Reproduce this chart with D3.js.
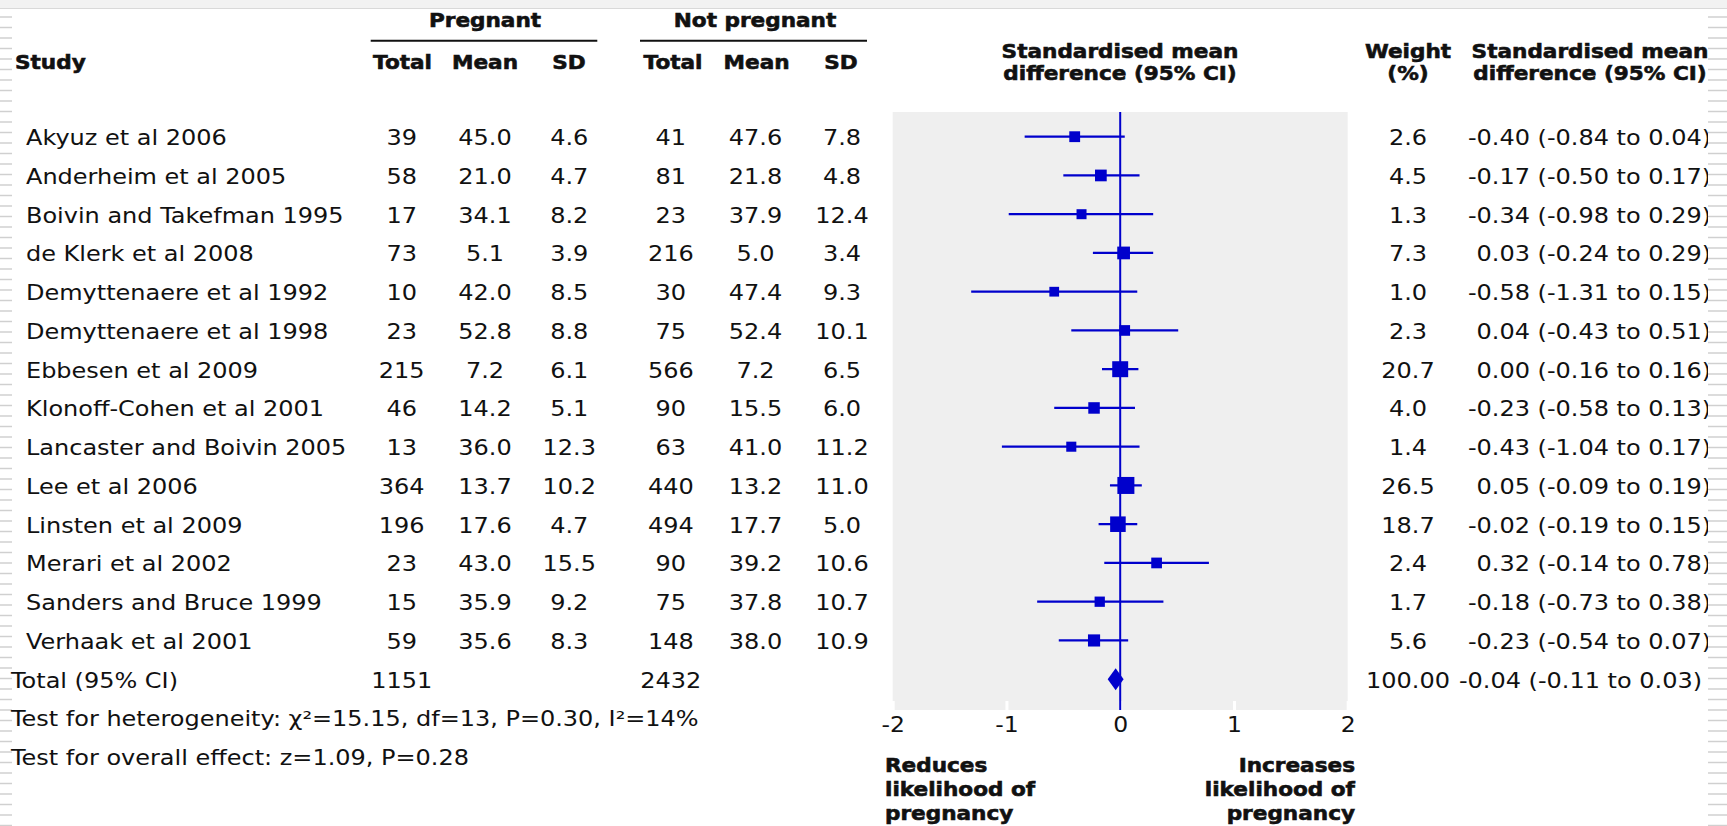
<!DOCTYPE html>
<html><head><meta charset="utf-8">
<script src="https://cdn.jsdelivr.net/npm/d3@7/dist/d3.min.js"></script>
<style>html,body{margin:0;padding:0;background:#fff;}svg{display:block;}</style>
</head><body>
<script>
// ---------------- DATA ----------------
const studies = ["Akyuz et al 2006","Anderheim et al 2005","Boivin and Takefman 1995","de Klerk et al 2008",
  "Demyttenaere et al 1992","Demyttenaere et al 1998","Ebbesen et al 2009","Klonoff-Cohen et al 2001",
  "Lancaster and Boivin 2005","Lee et al 2006","Linsten et al 2009","Merari et al 2002",
  "Sanders and Bruce 1999","Verhaak et al 2001"];
const pregTotal = [39,58,17,73,10,23,215,46,13,364,196,23,15,59];
const pregMean  = [45.0,21.0,34.1,5.1,42.0,52.8,7.2,14.2,36.0,13.7,17.6,43.0,35.9,35.6];
const pregSD    = [4.6,4.7,8.2,3.9,8.5,8.8,6.1,5.1,12.3,10.2,4.7,15.5,9.2,8.3];
const notTotal  = [41,81,23,216,30,75,566,90,63,440,494,90,75,148];
const notMean   = [47.6,21.8,37.9,5.0,47.4,52.4,7.2,15.5,41.0,13.2,17.7,39.2,37.8,38.0];
const notSD     = [7.8,4.8,12.4,3.4,9.3,10.1,6.5,6.0,11.2,11.0,5.0,10.6,10.7,10.9];
const weights   = [2.6,4.5,1.3,7.3,1.0,2.3,20.7,4.0,1.4,26.5,18.7,2.4,1.7,5.6];
const smd       = [-0.40,-0.17,-0.34,0.03,-0.58,0.04,0.00,-0.23,-0.43,0.05,-0.02,0.32,-0.18,-0.23];
const smdLower  = [-0.84,-0.50,-0.98,-0.24,-1.31,-0.43,-0.16,-0.58,-1.04,-0.09,-0.19,-0.14,-0.73,-0.54];
const smdUpper  = [0.04,0.17,0.29,0.29,0.15,0.51,0.16,0.13,0.17,0.19,0.15,0.78,0.38,0.07];
const totalLabel = "Total (95% CI)";
const totalPreg = 1151, totalNot = 2432, totalWeight = "100.00";
const totalSmd = -0.04, totalLower = -0.11, totalUpper = 0.03;
const heterogeneityText = "Test for heterogeneity: χ²=15.15, df=13, P=0.30, I²=14%";
const overallText = "Test for overall effect: z=1.09, P=0.28";
const axisTicks = [-2,-1,0,1,2];
const groupHeaders = ["Pregnant","Not pregnant"];
const colHeaders = ["Total","Mean","SD"];
const leftNote = ["Reduces","likelihood of","pregnancy"];
const rightNote = ["Increases","likelihood of","pregnancy"];

// ---------------- LAYOUT ----------------
const W = 1727, H = 826;
const BLUE = "#0000cc", INK = "#111";
const loc = d3.formatLocale({decimal:".", thousands:",", grouping:[3], currency:["",""], minus:"-"});
const f1 = loc.format(".1f"), f2 = loc.format(".2f"), fi = loc.format("d");

const svg = d3.select("body").append("svg").attr("width", W).attr("height", H);
svg.append("rect").attr("width", W).attr("height", H).attr("fill", "#fff");

// slide decorations
svg.append("rect").attr("x",0).attr("y",0).attr("width",W).attr("height",8).attr("fill","#f2f2f2");
svg.append("line").attr("x1",0).attr("x2",W).attr("y1",8.5).attr("y2",8.5).attr("stroke","#d9d9d9").attr("stroke-width",1);
const stripeYs = d3.range(17, H, 10.5);
svg.append("g").selectAll("line").data(stripeYs).join("line")
  .attr("x1",0).attr("x2",12).attr("y1",d=>d).attr("y2",d=>d).attr("stroke","#d0d0d0").attr("stroke-width",1.5);

const x = d3.scaleLinear().domain([-2,2]).range([892.7,1347.7]);
const rowY = d3.scaleLinear().domain([0,1]).range([136.7,175.45]);
const sizeScale = d3.scaleSqrt().domain([0,26.5]).range([0,9]);
const markSize = w => 8 + sizeScale(w);
const panelTop = 112, panelBottom = 710;

function label(sel, xx, yy, s, opt={}) {
  const bold = !!opt.bold;
  const sx = bold ? 1.08 : 1.17;
  const t = sel.append("text")
    .attr("transform", `translate(${xx},${yy}) scale(${sx},1)`)
    .attr("text-anchor", opt.anchor || "start")
    .attr("font-family", "DejaVu Sans")
    .attr("font-weight", bold ? "bold" : "normal")
    .attr("font-size", opt.size || (bold ? 20 : 20.5))
    .attr("fill", INK)
    .text(s);
  if (bold) t.attr("stroke", INK).attr("stroke-width", 0.6);
  return t;
}

// ---------------- HEADERS ----------------
const hdr = svg.append("g");
const groupCenters = [485, 755];
const groupLines = [[370.7,597.3],[640,867]];
groupHeaders.forEach((g,i)=>{
  label(hdr, groupCenters[i], 27, g, {bold:true, anchor:"middle"});
  hdr.append("line").attr("x1",groupLines[i][0]).attr("x2",groupLines[i][1])
    .attr("y1",40.7).attr("y2",40.7).attr("stroke",INK).attr("stroke-width",2);
});
const colCenters = [401.7, 485, 569.2, 670.8, 755.5, 842];
const hdrCenters = [402.5, 485, 569, 673, 756.6, 841];
hdrCenters.forEach((c,i)=> label(hdr, c, 69.3, colHeaders[i%3], {bold:true, anchor:"middle"}));
label(hdr, 15, 69.3, "Study", {bold:true});
label(hdr, 1120, 58, "Standardised mean", {bold:true, anchor:"middle"});
label(hdr, 1120, 80, "difference (95% CI)", {bold:true, anchor:"middle"});
label(hdr, 1408, 58, "Weight", {bold:true, anchor:"middle"});
label(hdr, 1408, 80, "(%)", {bold:true, anchor:"middle"});
label(hdr, 1590, 58, "Standardised mean", {bold:true, anchor:"middle"});
label(hdr, 1590, 80, "difference (95% CI)", {bold:true, anchor:"middle"});

// ---------------- PANEL ----------------
const plot = svg.append("g");
plot.append("rect").attr("x", x(-2)).attr("y", panelTop).attr("width", x(2)-x(-2))
  .attr("height", panelBottom-panelTop).attr("fill", "#efefef");

const axis = d3.axisBottom(x).tickValues(axisTicks).tickSizeInner(-9).tickSizeOuter(0)
  .tickPadding(7).tickFormat(fi);
const ax = plot.append("g").attr("transform", `translate(0,${panelBottom})`).call(axis);
ax.select(".domain").remove();
ax.selectAll(".tick line").attr("stroke","#fff").attr("stroke-width",3);
ax.selectAll(".tick text").attr("font-family","DejaVu Sans").attr("font-size",21)
  .attr("fill",INK).attr("transform","scale(1.12,1)");

plot.append("line").attr("x1",x(0)).attr("x2",x(0)).attr("y1",panelTop).attr("y2",panelBottom)
  .attr("stroke",BLUE).attr("stroke-width",2);

const idx = d3.range(studies.length);
plot.append("g").selectAll("line").data(idx).join("line")
  .attr("x1",i=>x(smdLower[i])).attr("x2",i=>x(smdUpper[i]))
  .attr("y1",i=>rowY(i)).attr("y2",i=>rowY(i))
  .attr("stroke",BLUE).attr("stroke-width",2.2);
plot.append("g").selectAll("rect").data(idx).join("rect")
  .attr("x",i=>x(smd[i]) - markSize(weights[i])/2)
  .attr("y",i=>rowY(i) - markSize(weights[i])/2)
  .attr("width",i=>markSize(weights[i]))
  .attr("height",i=>markSize(weights[i]))
  .attr("fill",BLUE);

const ty = rowY(studies.length);
plot.append("path")
  .attr("d", `M${x(totalLower)},${ty} L${x(totalSmd)},${ty-11} L${x(totalUpper)},${ty} L${x(totalSmd)},${ty+11} Z`)
  .attr("fill", BLUE);

// ---------------- TABLE ROWS ----------------
const tb = svg.append("g");
idx.forEach(i=>{
  const by = rowY(i) + 8.5;
  label(tb, 26, by, studies[i]);
  label(tb, colCenters[0], by, fi(pregTotal[i]), {anchor:"middle"});
  label(tb, colCenters[1], by, f1(pregMean[i]), {anchor:"middle"});
  label(tb, colCenters[2], by, f1(pregSD[i]), {anchor:"middle"});
  label(tb, colCenters[3], by, fi(notTotal[i]), {anchor:"middle"});
  label(tb, colCenters[4], by, f1(notMean[i]), {anchor:"middle"});
  label(tb, colCenters[5], by, f1(notSD[i]), {anchor:"middle"});
  label(tb, 1408, by, f1(weights[i]), {anchor:"middle"});
  label(tb, 1711, by, `${f2(smd[i])} (${f2(smdLower[i])} to ${f2(smdUpper[i])})`, {anchor:"end"});
});
const tby = ty + 8.5;
label(tb, 11, tby, totalLabel);
label(tb, colCenters[0], tby, fi(totalPreg), {anchor:"middle"});
label(tb, colCenters[3], tby, fi(totalNot), {anchor:"middle"});
label(tb, 1408, tby, totalWeight, {anchor:"middle"});
label(tb, 1702, tby, `${f2(totalSmd)} (${f2(totalLower)} to ${f2(totalUpper)})`, {anchor:"end"});
label(tb, 11, rowY(studies.length+1)+8.5, heterogeneityText);
label(tb, 11, rowY(studies.length+2)+8.5, overallText);

// ---------------- DIRECTION NOTES ----------------
const notes = svg.append("g");
leftNote.forEach((s,i)=> label(notes, 885, 771.7 + i*24.3, s, {bold:true}));
rightNote.forEach((s,i)=> label(notes, 1355, 771.7 + i*24.3, s, {bold:true, anchor:"end"}));

// right-edge stripes (slide decoration, drawn over)
svg.append("rect").attr("x",1708).attr("y",12).attr("width",19).attr("height",H-12).attr("fill","#fff");
svg.append("g").selectAll("line").data(stripeYs).join("line")
  .attr("x1",1708).attr("x2",W).attr("y1",d=>d).attr("y2",d=>d).attr("stroke","#d0d0d0").attr("stroke-width",1.5);
</script>
</body></html>
